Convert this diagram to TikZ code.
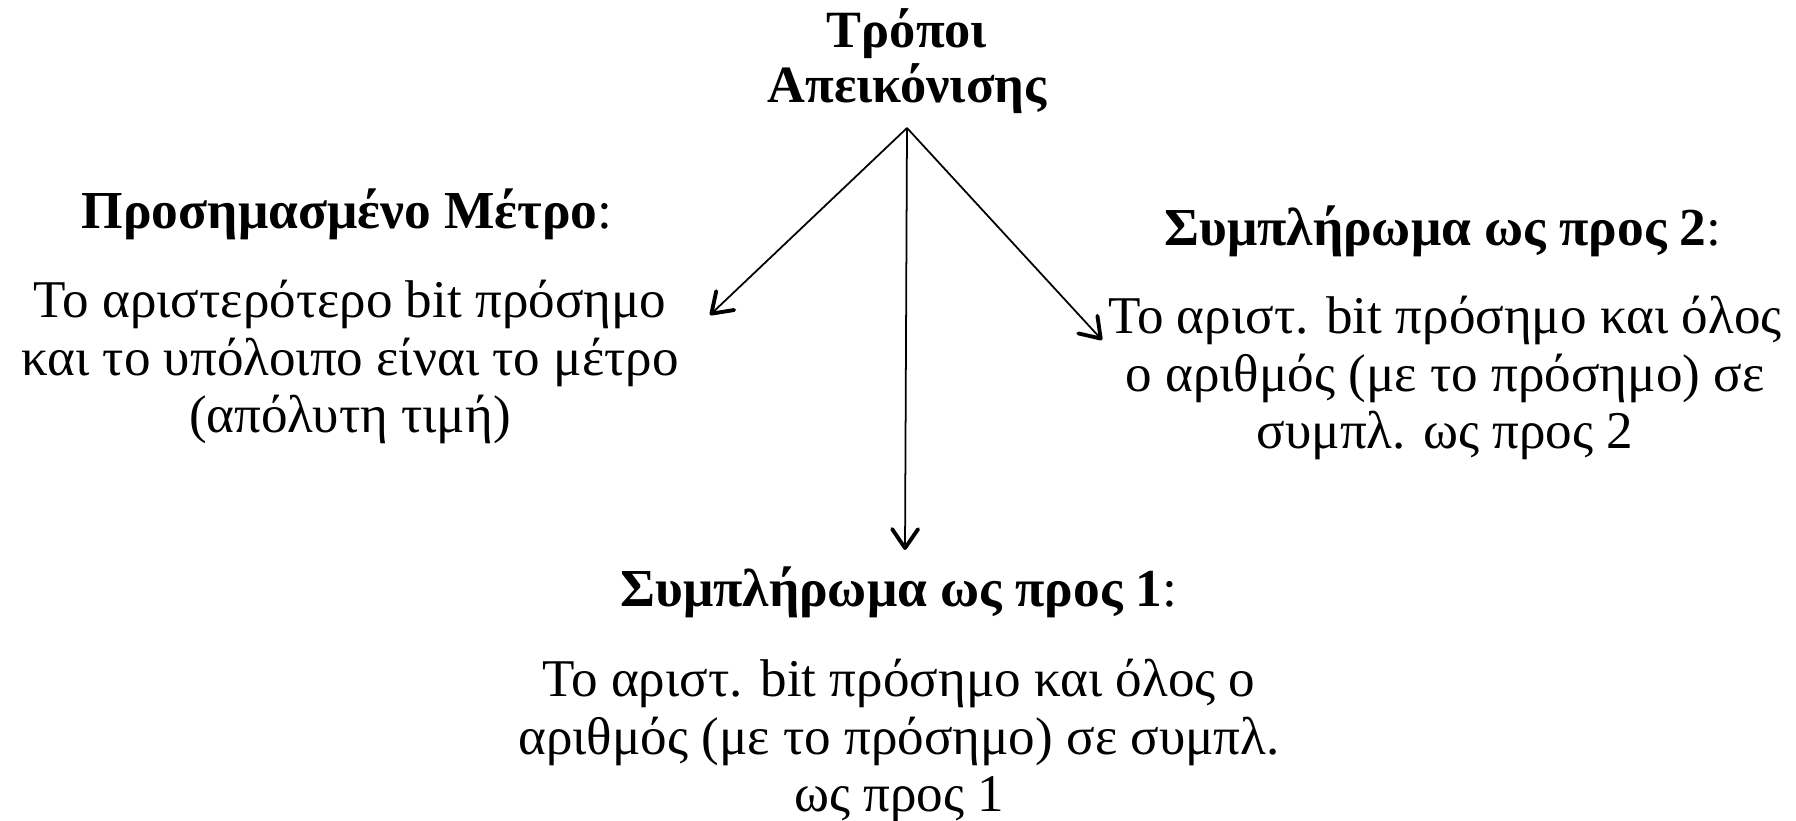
\documentclass[tikz,border=0pt]{standalone}
\usepackage{fontspec}
\setmainfont{Liberation Serif}
\usepackage{tikz}
\usetikzlibrary{arrows.meta}

\begin{document}
\begin{tikzpicture}[
        txt/.style={inner sep=0pt, align=center, font=\fontsize{15.1}{16.4}\selectfont},
        title/.style={txt, font=\fontsize{14.9}{15.7}\selectfont\bfseries},
        head/.style={txt, font=\fontsize{15.2}{16.4}\selectfont},
        arrow/.style={-{Straight Barb[length=1.9mm, width=2.6mm, line width=1.1pt, round]}, line width=0.5pt}
    ]
        \useasboundingbox (0,0) rectangle (17.96,-8.21);

        % Nodes
        \node[title] (title) at (9.07,-0.61) {Τρόποι \\ Απεικόνισης};
        \coordinate (fork) at (9.07,-1.28);

        \node[head] (lhead) at (3.47,-2.14) {\textbf{Προσημασμένο Μέτρο}:};
        \node[txt] (lbody) at (3.50,-3.62) {Το αριστερότερο bit πρόσημο \\ και το υπόλοιπο είναι το μέτρο \\ (απόλυτη τιμή)};

        \node[head] (rhead) at (14.43,-2.31) {\textbf{Συμπλήρωμα ως προς 2}:};
        \node[txt] (rbody) at (14.45,-3.78) {Το αριστ. bit πρόσημο και όλος \\ ο αριθμός (με το πρόσημο) σε \\ συμπλ. ως προς 2};

        \node[head] (bhead) at (8.99,-5.92) {\textbf{Συμπλήρωμα ως προς 1}:};
        \node[txt] (bbody) at (8.99,-7.41) {Το αριστ. bit πρόσημο και όλος ο \\ αριθμός (με το πρόσημο) σε συμπλ. \\ ως προς 1};

        \coordinate (ltip) at (7.10,-3.15);
        \coordinate (btip) at (9.05,-5.50);
        \coordinate (rtip) at (11.02,-3.40);

        % Arrows
        \draw[arrow] (fork) -- (ltip);
        \draw[arrow] (fork) -- (btip);
        \draw[arrow] (fork) -- (rtip);

    \end{tikzpicture}
\end{document}
